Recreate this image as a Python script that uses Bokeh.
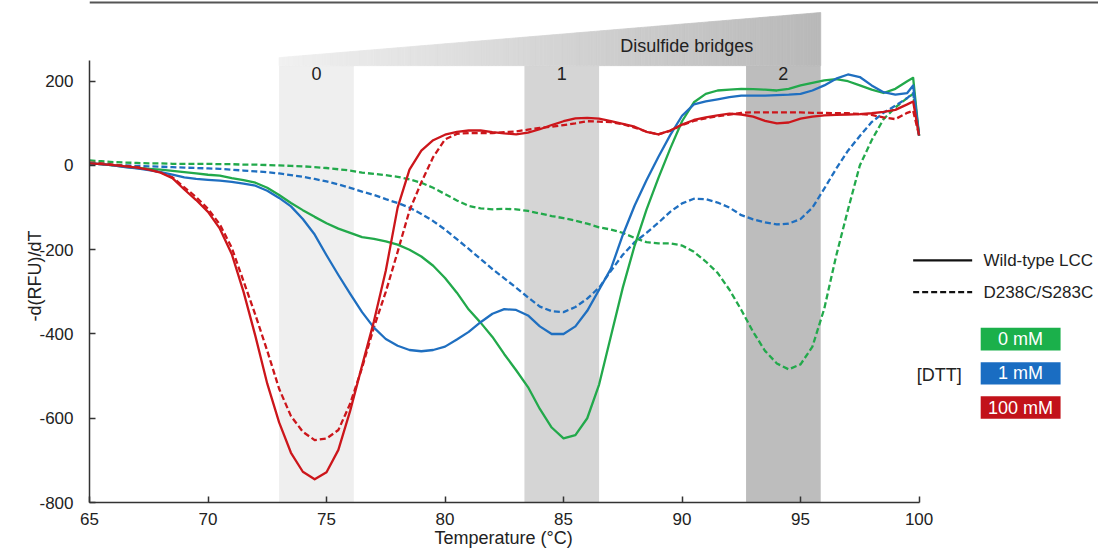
import numpy as np
from bokeh.plotting import figure
from bokeh.models import Range1d, FixedTicker, Label, Span, Title
from bokeh.embed import file_html
from bokeh.resources import INLINE

# ---------------- data ----------------
temperature = [65.0, 65.5, 66.0, 66.5, 67.0, 67.5, 68.0, 68.5, 69.0, 69.5,
               70.0, 70.5, 71.0, 71.5, 72.0, 72.5, 73.0, 73.5, 74.0, 74.5,
               75.0, 75.5, 76.0, 76.5, 77.0, 77.5, 78.0, 78.5, 79.0, 79.5,
               80.0, 80.5, 81.0, 81.5, 82.0, 82.5, 83.0, 83.5, 84.0, 84.5,
               85.0, 85.5, 86.0, 86.5, 87.0, 87.5, 88.0, 88.5, 89.0, 89.5,
               90.0, 90.5, 91.0, 91.5, 92.0, 92.5, 93.0, 93.5, 94.0, 94.5,
               95.0, 95.5, 96.0, 96.5, 97.0, 97.5, 98.0, 98.5, 99.0, 99.5,
               99.75, 100.0]

wt_0mM = [5, 3, 0, -3, -6, -8, -10, -13, -16, -19,
          -22, -24, -30, -35, -41, -53, -70, -89, -106, -122,
          -137, -150, -160, -170, -174, -180, -188, -200, -216, -238,
          -267, -302, -342, -373, -407, -448, -486, -526, -578, -622,
          -648, -640, -600, -520, -405, -290, -190, -105, -30, 40,
          105, 150, 170, 178, 180, 182, 181, 180, 178, 182,
          190, 196, 202, 205, 200, 190, 180, 172, 182, 200,
          208, 71]

wt_1mM = [5, 3, 0, -4, -7, -11, -16, -22, -28, -32,
          -34, -36, -39, -43, -48, -60, -77, -97, -127, -164,
          -213, -260, -305, -348, -385, -412, -428, -438, -441, -438,
          -430, -413, -395, -372, -352, -341, -343, -356, -382, -400,
          -400, -382, -345, -295, -245, -165, -95, -35, 20, 72,
          118, 145, 152, 157, 162, 166, 166, 166, 167, 168,
          170, 178, 190, 206, 216, 210, 190, 174, 168, 172,
          190, 71]

wt_100mM = [5, 3, 1, -2, -5, -10, -17, -30, -57, -82,
            -110, -150, -210, -300, -405, -518, -610, -682, -727, -745,
            -728, -675, -582, -475, -370, -250, -100, -10, 35, 60,
            73, 80, 83, 83, 79, 76, 74, 78, 86, 96,
            105, 112, 113, 111, 105, 99, 92, 80, 74, 83,
            97, 108, 114, 119, 123, 121, 116, 106, 100, 102,
            111, 116, 119, 120, 121, 122, 124, 127, 132, 145,
            152, 71]

mut_0mM = [12, 10, 8, 7, 6, 5, 5, 4, 4, 4,
           4, 3, 3, 2, 2, 1, 0, -1, -2, -4,
           -6, -9, -12, -17, -20, -23, -27, -33, -41, -53,
           -68, -83, -96, -102, -104, -103, -104, -108, -114, -120,
           -125, -131, -138, -147, -152, -160, -172, -182, -185, -185,
           -190, -205, -228, -255, -295, -343, -395, -440, -470, -484,
           -472, -430, -340, -215, -105, 0, 60, 110, 138, 160,
           170, 71]

mut_1mM = [5, 3, 1, 0, -1, -2, -3, -4, -5, -6,
           -7, -8, -10, -12, -14, -16, -19, -23, -27, -32,
           -38, -45, -53, -62, -70, -80, -89, -100, -115, -132,
           -152, -175, -198, -222, -246, -268, -290, -313, -335, -346,
           -348, -336, -316, -290, -250, -212, -182, -160, -136, -110,
           -90, -79, -80, -88, -100, -118, -128, -135, -140, -138,
           -127, -100, -55, -8, 35, 70, 103, 125, 142, 160,
           172, 71]

mut_100mM = [7, 5, 2, -1, -4, -9, -16, -28, -52, -75,
             -103, -140, -195, -275, -355, -440, -530, -595, -632, -652,
             -648, -628, -565, -480, -384, -300, -205, -107, -40, 20,
             62, 75, 77, 77, 77, 79, 81, 85, 89, 92,
             96, 100, 105, 104, 103, 98, 90, 80, 74, 82,
             96, 106, 112, 117, 121, 125, 126, 126, 126, 126,
             126, 125, 125, 124, 124, 122, 120, 114, 110, 125,
             130, 71]

dtt_labels = ["0 mM", "1 mM", "100 mM"]
variant_labels = ["Wild-type LCC", "D238C/S283C"]
band_left = [73.0, 83.35, 92.7]
band_right = [76.15, 86.5, 95.85]
band_labels = ["0", "1", "2"]
x_ticks = [65, 70, 75, 80, 85, 90, 95, 100]
y_ticks = [-800, -600, -400, -200, 0, 200]

# ---------------- style ----------------
FONT = "Liberation Sans"
TXT = "#222222"
GREEN = "#22a94b"
BLUE = "#1f6fc0"
RED = "#cc161b"
BOX_COLORS = ["#1bb04b", "#1a6dc2", "#c2121a"]
BAND_COLORS = ["#efefef", "#d5d5d5", "#bdbdbd"]
FS = "18px"
FS_LEG = "17px"

p = figure(width=1098, height=549,
           x_range=Range1d(65, 107.57), y_range=Range1d(-800, 391.6),
           output_backend="svg", toolbar_location=None,
           min_border_left=89, min_border_right=0,
           min_border_top=0, min_border_bottom=47)
p.outline_line_color = None
p.xgrid.visible = False
p.ygrid.visible = False
p.background_fill_color = "white"
p.border_fill_color = "white"

for ax in (p.xaxis, p.yaxis):
    ax.axis_line_color = "#333333"
    ax.axis_line_width = 1.5
    ax.major_tick_line_color = "#333333"
    ax.major_tick_line_width = 1.5
    ax.major_tick_in = 6
    ax.major_tick_out = 0
    ax.minor_tick_line_color = None
    ax.major_label_text_font = FONT
    ax.major_label_text_font_size = "17px"
    ax.major_label_text_color = TXT

p.xaxis.bounds = (65, 100)
p.yaxis.bounds = (-800, 250)
p.xaxis.ticker = FixedTicker(ticks=x_ticks)
p.yaxis.ticker = FixedTicker(ticks=y_ticks)
p.xaxis.major_label_overrides = {t: str(t) for t in x_ticks}
p.yaxis.major_label_overrides = {t: str(t) for t in y_ticks}
p.xaxis.major_label_standoff = 10
p.yaxis.major_label_standoff = 16

# axis titles as side-panel titles (positioned along the axis bounds)
p.add_layout(Title(text="Temperature (\u00b0C)", align="left", offset=345,
                   vertical_align="top", standoff=0, text_font=FONT,
                   text_font_size=FS, text_font_style="normal",
                   text_color=TXT), "below")
ytitle = Title(text="-d(RFU)/dT", align="left", offset=181,
               vertical_align="bottom", standoff=0, text_font=FONT,
               text_font_size=FS, text_font_style="normal", text_color=TXT)
try:
    ytitle.standoff = -16
except Exception:
    ytitle.standoff = 0
p.add_layout(ytitle, "left")

# shaded bands
p.quad(left=band_left, right=band_right, bottom=-800, top=237,
       fill_color=BAND_COLORS, line_color=None)

# gradient trapezoid (disulfide bridges)
x0, x1 = band_left[0], band_right[-1]
y_bot, y_top0, y_top1 = 237, 256, 363
n = 160
edges = np.linspace(x0, x1, n + 1)
xs, ys, cols = [], [], []
for i in range(n):
    a, b = edges[i], edges[i + 1]
    ta = y_top0 + (a - x0) / (x1 - x0) * (y_top1 - y_top0)
    tb = y_top0 + (b - x0) / (x1 - x0) * (y_top1 - y_top0)
    xs.append([a, b, b, a])
    ys.append([y_bot, y_bot, tb, ta])
    f = (a + b) / 2
    g = int(round(241 - (f - x0) / (x1 - x0) * (241 - 184)))
    cols.append("#%02x%02x%02x" % (g, g, g))
p.patches(xs, ys, fill_color=cols, line_color=cols, line_width=0.8)

for bl, br, lab in zip(band_left, band_right, band_labels):
    p.add_layout(Label(x=(bl + br) / 2, y=218, text=lab, text_align="center",
                       text_baseline="middle", text_font=FONT,
                       text_font_size=FS, text_color=TXT))
p.add_layout(Label(x=90.2, y=282.5, text="Disulfide bridges", text_align="center",
                   text_baseline="middle", text_font=FONT,
                   text_font_size=FS, text_color=TXT))

# curves
LW = 2.3
DASH = "6 3"
for ys_, c in ((mut_0mM, GREEN), (mut_1mM, BLUE), (mut_100mM, RED)):
    p.line(temperature, ys_, line_color=c, line_width=LW, line_dash=DASH,
           line_join="round")
for ys_, c in ((wt_0mM, GREEN), (wt_1mM, BLUE), (wt_100mM, RED)):
    p.line(temperature, ys_, line_color=c, line_width=LW, line_join="round")

# custom legend
p.line([99.75, 102.24], [-225.5, -225.5], line_color="#111111", line_width=2.2)
p.line([99.75, 102.24], [-300.7, -300.7], line_color="#111111", line_width=2.2,
       line_dash="6 3")
for lab, yy in zip(variant_labels, [-225.5, -300.7]):
    p.add_layout(Label(x=102.72, y=yy, text=lab, text_align="left",
                       text_baseline="middle", text_font=FONT,
                       text_font_size=FS_LEG, text_color=TXT))

box_bottom = [-439, -520, -601]
box_top = [-385, -467, -548]
p.quad(left=102.6, right=105.97, bottom=box_bottom, top=box_top,
       fill_color=BOX_COLORS, line_color=None)
for lab, b, t in zip(dtt_labels, box_bottom, box_top):
    p.add_layout(Label(x=104.28, y=(b + t) / 2, text=lab, text_align="center",
                       text_baseline="middle", text_font=FONT,
                       text_font_size=FS, text_color="white"))
p.add_layout(Label(x=99.9, y=-497, text="[DTT]", text_align="left",
                   text_baseline="middle", text_font=FONT,
                   text_font_size=FS, text_color=TXT))

# top rule
p.add_layout(Span(location=386.9, dimension="width", line_color="#555555",
                  line_width=2))

open("out.html", "w").write(file_html(p, INLINE))
